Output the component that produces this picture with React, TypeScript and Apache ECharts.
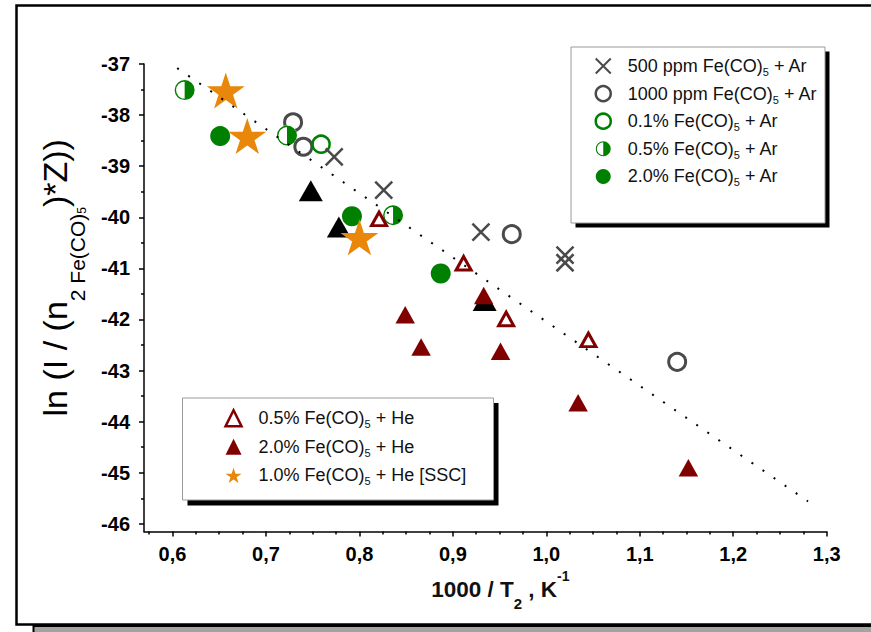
import React, { useEffect, useRef } from 'react';
import * as echarts from 'echarts';

// ---- axis ticks ----
const xTicksMajor = [0.6, 0.7, 0.8, 0.9, 1.0, 1.1, 1.2, 1.3];
const xTicksMinor = [0.575, 0.625, 0.65, 0.675, 0.725, 0.75, 0.775, 0.825, 0.85, 0.875, 0.925, 0.95, 0.975,
  1.025, 1.05, 1.075, 1.125, 1.15, 1.175, 1.225, 1.25, 1.275];
const yTicksMajor = [-46, -45, -44, -43, -42, -41, -40, -39, -38, -37];
const yTicksMinor = [-45.5, -44.5, -43.5, -42.5, -41.5, -40.5, -39.5, -38.5, -37.5];

// ---- series names ----
const nAr500 = '500 ppm Fe(CO)5 + Ar';
const nAr1000 = '1000 ppm Fe(CO)5 + Ar';
const nAr01 = '0.1% Fe(CO)5 + Ar';
const nAr05 = '0.5% Fe(CO)5 + Ar';
const nAr20 = '2.0% Fe(CO)5 + Ar';
const nHe05 = '0.5% Fe(CO)5 + He';
const nHe20 = '2.0% Fe(CO)5 + He';
const nHeSSC = '1.0% Fe(CO)5 + He [SSC]';

// ---- data [1000/T2, ln(...)] ----
const ar500ppm = [[0.773, -38.82], [0.826, -39.47], [0.930, -40.29], [1.020, -40.74], [1.020, -40.89]];
const ar1000ppm = [[0.729, -38.14], [0.740, -38.62], [0.963, -40.33], [1.140, -42.83]];
const ar01 = [[0.759, -38.57]];
const ar05 = [[0.613, -37.51], [0.7225, -38.40], [0.836, -39.96]];
const ar20 = [[0.651, -38.41], [0.792, -39.98], [0.887, -41.10]];
const blackTri = [[0.748, -39.48], [0.778, -40.19], [0.934, -41.63]];
const he05 = [[0.821, -40.03], [0.9115, -40.90], [0.957, -41.99], [1.045, -42.40]];
const he20 = [[0.933, -41.53], [0.849, -41.91], [0.866, -42.54], [0.951, -42.62], [1.034, -43.63], [1.152, -44.90]];
const heSSC = [[0.657, -37.52], [0.680, -38.41], [0.800, -40.39]];
const fitLine = [[0.605, -37.08], [1.28, -45.56]];

const FONT = '"Liberation Sans", Arial, Helvetica, sans-serif';
const GRAY = '#4a4a4a';
const GREEN = '#008000';
const DARKRED = '#800000';
const ORANGE = '#e8870a';

const X_PATH = 'path://M0,0L20,20M20,0L0,20';
const HALF_PATH = 'path://M0,10A10,10 0 0,1 20,10A10,10 0 0,1 0,10ZM1.4,10A8.6,8.6 0 0,0 18.6,10A8.6,8.6 0 0,0 1.4,10ZM10,0A10,10 0 0,1 10,20Z';
const STAR_PATH = 'path://M50,0L61.23,34.55L97.55,34.55L68.16,55.9L79.39,90.45L50,69.1L20.61,90.45L31.84,55.9L2.45,34.55L38.77,34.55Z';

const legendFmt = (name: string) => {
  const parts = name.split('Fe(CO)5');
  return `{g|}{a|${parts[0]}Fe(CO)}{s|5}{a|${parts[1]}}`;
};

const legendText = (gap: number) => ({
  fontFamily: FONT,
  fontSize: 18,
  color: '#111',
  rich: {
    g: { width: gap, lineHeight: 23 },
    a: { fontFamily: FONT, fontSize: 18, color: '#111', lineHeight: 23, verticalAlign: 'middle' },
    s: { fontFamily: FONT, fontSize: 11, color: '#111', lineHeight: 6, verticalAlign: 'bottom' },
  },
});

export default function App() {
  const ref = useRef<HTMLDivElement>(null);
  useEffect(() => {
    document.body.style.margin = '0';
    const chart = echarts.init(ref.current!, null, { renderer: 'svg' });
    const axisLineStyle = { color: '#000', width: 1.5 };
    const option: any = {
      animation: false,
      grid: { left: 144, top: 64, right: 44.3, bottom: 100.5, containLabel: false },
      xAxis: [
        {
          type: 'value', min: 0.5695, max: 1.3, position: 'bottom',
          axisLine: { show: true, onZero: false, lineStyle: axisLineStyle },
          axisTick: { show: true, customValues: xTicksMajor, length: 5, inside: false, lineStyle: axisLineStyle },
          axisLabel: {
            show: true, customValues: xTicksMajor, margin: 12,
            formatter: (v: number) => v.toFixed(1).replace('.', ','),
            fontFamily: FONT, fontWeight: 'bold', fontSize: 20, color: '#000', lineHeight: 20,
          },
          splitLine: { show: false },
          name: '{a|1000 / T}{s|2}{a| , K}{p|-1}',
          nameLocation: 'middle', nameGap: 37,
          nameTextStyle: {
            padding: [0, 0, 0, 30],
            rich: {
              a: { fontFamily: FONT, fontSize: 22.5, fontWeight: 'bold', color: '#111', lineHeight: 42, verticalAlign: 'middle' },
              s: { fontFamily: FONT, fontSize: 15, fontWeight: 'bold', color: '#111', lineHeight: 15, verticalAlign: 'bottom' },
              p: { fontFamily: FONT, fontSize: 14, fontWeight: 'bold', color: '#111', lineHeight: 25, verticalAlign: 'top' },
            },
          },
        },
        {
          type: 'value', min: 0.5695, max: 1.3, position: 'bottom',
          axisLine: { show: false },
          axisTick: { show: true, customValues: xTicksMinor, length: 3, inside: false, lineStyle: axisLineStyle },
          axisLabel: { show: false },
          splitLine: { show: false },
        },
      ],
      yAxis: [
        {
          type: 'value', min: -46.15, max: -37, position: 'left',
          axisLine: { show: true, onZero: false, lineStyle: axisLineStyle },
          axisTick: { show: true, customValues: yTicksMajor, length: 5, inside: false, lineStyle: axisLineStyle },
          axisLabel: {
            show: true, customValues: yTicksMajor, margin: 14,
            formatter: (v: number) => String(v),
            fontFamily: FONT, fontWeight: 'bold', fontSize: 20, color: '#000',
          },
          splitLine: { show: false },
          name: '{a|ln (I / (n}{s|2 Fe(CO)}{t|5}{a|)*Z))}',
          nameLocation: 'middle', nameRotate: 90, nameGap: 56,
          nameTextStyle: {
            padding: [0, 0, 0, 40],
            rich: {
              a: { fontFamily: FONT, fontSize: 34, color: '#000', lineHeight: 66, verticalAlign: 'middle' },
              s: { fontFamily: FONT, fontSize: 21, color: '#000', lineHeight: 22, verticalAlign: 'bottom' },
              t: { fontFamily: FONT, fontSize: 12, color: '#000', lineHeight: 11, verticalAlign: 'bottom' },
            },
          },
        },
        {
          type: 'value', min: -46.15, max: -37, position: 'left',
          axisLine: { show: false },
          axisTick: { show: true, customValues: yTicksMinor, length: 3, inside: false, lineStyle: axisLineStyle },
          axisLabel: { show: false },
          splitLine: { show: false },
        },
      ],
      legend: [
        {
          orient: 'vertical', left: 594.5, top: 57, padding: 0, itemGap: 7.1,
          itemWidth: 15, itemHeight: 15, selectedMode: false,
          formatter: legendFmt, textStyle: legendText(12),
          data: [
            { name: nAr500, itemStyle: { borderWidth: 2 } },
            { name: nAr1000, itemStyle: { borderWidth: 2.5 } },
            { name: nAr01, itemStyle: { borderWidth: 2.5 } },
            { name: nAr05 },
            { name: nAr20 },
          ],
        },
        {
          orient: 'vertical', left: 224.3, top: 409, padding: 0, itemGap: 8.1,
          itemWidth: 16, itemHeight: 16, selectedMode: false,
          formatter: legendFmt, textStyle: legendText(12),
          data: [
            { name: nHe05, itemStyle: { borderWidth: 2.5 } },
            { name: nHe20 },
            { name: nHeSSC },
          ],
        },
      ],
      graphic: [
        { type: 'rect', z: 0, silent: true, shape: { x: 16.5, y: 5.5, width: 900, height: 619 }, style: { fill: 'none', stroke: '#000', lineWidth: 2.5 } },
        { type: 'rect', z: 0, silent: true, shape: { x: 33.5, y: 626, width: 900, height: 20 }, style: { fill: '#a3a3a3', stroke: '#000', lineWidth: 2 } },
        { type: 'rect', z: 1, silent: true, shape: { x: 575.5, y: 51.5, width: 254, height: 176 }, style: { fill: '#000' } },
        { type: 'rect', z: 1, silent: true, shape: { x: 571, y: 47, width: 254, height: 176 }, style: { fill: '#fff', stroke: '#9a9a9a', lineWidth: 1 } },
        { type: 'rect', z: 1, silent: true, shape: { x: 187.5, y: 403, width: 311, height: 102.5 }, style: { fill: '#000' } },
        { type: 'rect', z: 1, silent: true, shape: { x: 182.5, y: 398, width: 311, height: 102 }, style: { fill: '#fff', stroke: '#9a9a9a', lineWidth: 1 } },
      ],
      series: [
        { name: nAr1000, type: 'scatter', data: ar1000ppm, symbol: 'circle', symbolSize: 17, z: 3,
          itemStyle: { color: '#fff', borderColor: GRAY, borderWidth: 3, opacity: 1 } },
        { name: 'bg05', type: 'scatter', data: ar05, symbol: 'circle', symbolSize: 20, z: 3, silent: true,
          itemStyle: { color: '#fff', opacity: 1 } },
        { name: nAr05, type: 'scatter', data: ar05, symbol: HALF_PATH, symbolSize: 20, z: 3,
          itemStyle: { color: GREEN, opacity: 1 } },
        { name: nAr01, type: 'scatter', data: ar01, symbol: 'circle', symbolSize: 17, z: 4,
          itemStyle: { color: '#fff', borderColor: GREEN, borderWidth: 2.5, opacity: 1 } },
        { name: nAr500, type: 'scatter', data: ar500ppm, symbol: X_PATH, symbolSize: 17, z: 4,
          itemStyle: { color: GRAY, borderColor: GRAY, borderWidth: 2.5, opacity: 1 } },
        { name: nAr20, type: 'scatter', data: ar20, symbol: 'circle', symbolSize: 20, z: 4,
          itemStyle: { color: GREEN, opacity: 1 } },
        { name: 'black', type: 'scatter', data: blackTri, symbol: 'triangle', symbolSize: [24, 21], z: 4,
          itemStyle: { color: '#000', opacity: 1 } },
        { name: nHe05, type: 'scatter', data: he05, symbol: 'triangle', symbolSize: [15, 13.5], z: 5,
          itemStyle: { color: '#fff', borderColor: DARKRED, borderWidth: 3, opacity: 1 } },
        { name: nHe20, type: 'scatter', data: he20, symbol: 'triangle', symbolSize: [19.5, 17.5], z: 5,
          itemStyle: { color: DARKRED, opacity: 1 } },
        { name: nHeSSC, type: 'scatter', data: heSSC, symbol: STAR_PATH, symbolSize: [38, 36], z: 6,
          itemStyle: { color: ORANGE, opacity: 1 } },
        { name: 'fit', type: 'line', data: fitLine, symbol: 'none', z: 8, silent: true,
          lineStyle: { color: '#000', width: 2, type: [2, 11.4] } },
      ],
    };
    chart.setOption(option);
    return () => chart.dispose();
  }, []);
  return <div ref={ref} style={{ position: 'absolute', left: 0, top: 0, width: 871, height: 632 }} />;
}
